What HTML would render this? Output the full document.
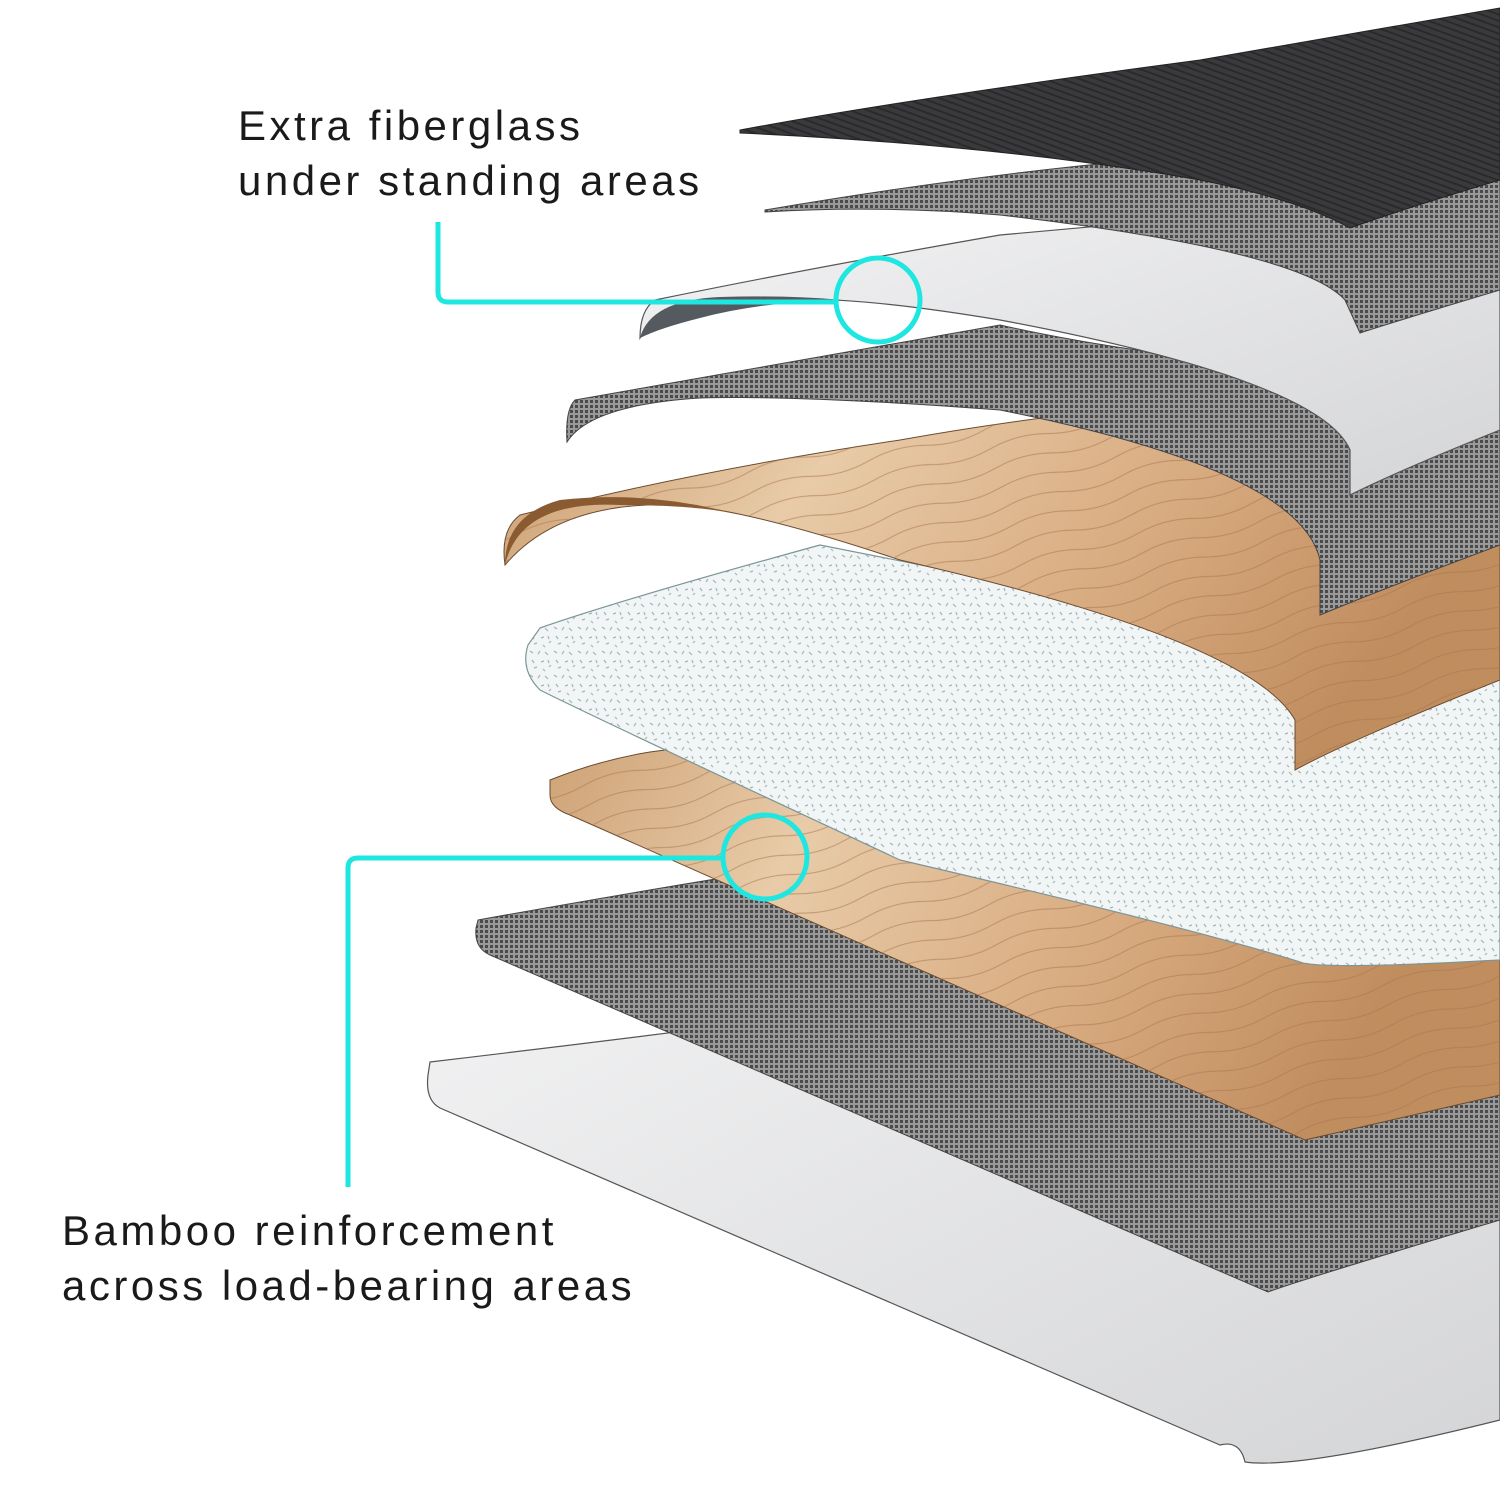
<!DOCTYPE html>
<html><head><meta charset="utf-8"><style>
html,body{margin:0;padding:0;background:#fff;}
svg{display:block;}
text{font-family:"Liberation Sans",sans-serif;fill:#1a1a1a;letter-spacing:3.5px;}
</style></head><body>
<svg width="1500" height="1500" viewBox="0 0 1500 1500" xmlns="http://www.w3.org/2000/svg">
<defs>
<pattern id="mesh" width="5" height="5" patternUnits="userSpaceOnUse">
<rect width="5" height="5" fill="#9a9a9a"/><rect width="3" height="3" fill="#4a4a4a"/>
</pattern>
<pattern id="stripes" width="6" height="6" patternUnits="userSpaceOnUse" patternTransform="rotate(-70)">
<rect width="6" height="6" fill="#3a3a3c"/><rect width="2" height="6" fill="#2a2a2c"/>
</pattern>
<pattern id="wood" width="120" height="40" patternUnits="userSpaceOnUse" patternTransform="rotate(-15)">
<path d="M0 10 Q30 2 60 10 T120 10 M0 30 Q30 22 60 30 T120 30" fill="none" stroke="#a87650" stroke-width="1" opacity="0.6"/>
</pattern>
<pattern id="foam" width="24" height="24" patternUnits="userSpaceOnUse">
<rect width="24" height="24" fill="#f1f5f5"/>
<path d="M2 3l3 2M10 6l2-3M17 4l3 3M4 12l2 3M13 14l3-1M20 12l1 3M6 20l3-1M15 21l2 2M21 19l2-2" stroke="#9fb6b8" stroke-width="1.2"/>
</pattern>
<linearGradient id="woodg" x1="0" y1="0" x2="1" y2="0.3">
<stop offset="0" stop-color="#c99a6c"/><stop offset="0.35" stop-color="#e8cba8"/><stop offset="0.7" stop-color="#d8ab80"/><stop offset="1" stop-color="#c08d5f"/>
</linearGradient>
<linearGradient id="whiteg" x1="0" y1="0" x2="1" y2="1">
<stop offset="0" stop-color="#f4f4f5"/><stop offset="1" stop-color="#d4d5d7"/>
</linearGradient>
</defs>

<path d="M430 1062 Q700 1030 1000 990 L1500 900 L1500 1420 Q1300 1470 1245 1462 Q1240 1440 1220 1445 L440 1108 Q425 1100 428 1075 Z" fill="url(#whiteg)" stroke="#555" stroke-width="1.2"/>
<path d="M478 920 Q700 880 900 850 L1500 760 L1500 1220 Q1300 1280 1268 1292 L490 955 Q474 948 476 928 Z" fill="url(#mesh)" stroke="#444" stroke-width="1"/>
<path d="M550 780 Q600 760 650 752 L1500 640 L1500 1095 Q1350 1130 1305 1140 L570 815 Q550 808 550 795 Z" fill="url(#woodg)" stroke="#6b4a2e" stroke-width="1"/>
<path d="M550 780 Q600 760 650 752 L1500 640 L1500 1095 Q1350 1130 1305 1140 L570 815 Q550 808 550 795 Z" fill="url(#wood)"/>
<path d="M540 628 Q620 600 820 545 L1500 680 L1500 960 Q1320 970 1300 962 Q1200 930 900 860 Q600 720 540 690 Q520 670 528 645 Z" fill="url(#foam)" stroke="#7d9597" stroke-width="1.2"/>
<path d="M520 515 Q700 470 900 440 Q1150 395 1500 380 L1500 680 Q1350 740 1295 770 L1295 720 Q1250 640 900 560 Q750 510 680 505 Q560 500 505 565 Q500 530 520 515 Z" fill="url(#woodg)" stroke="#6b4a2e" stroke-width="1"/>
<path d="M520 515 Q700 470 900 440 Q1150 395 1500 380 L1500 680 Q1350 740 1295 770 L1295 720 Q1250 640 900 560 Q750 510 680 505 Q560 500 505 565 Q500 530 520 515 Z" fill="url(#wood)"/>
<path d="M505 565 Q520 500 620 505 Q700 505 740 515 Q650 490 560 500 Q505 515 505 565 Z" fill="#8a5a30"/>
<path d="M575 400 Q800 360 1000 325 Q1200 370 1500 380 L1500 545 Q1380 590 1320 615 L1320 560 Q1300 470 1000 410 Q800 395 700 398 Q590 405 567 442 Q565 410 575 400 Z" fill="url(#mesh)" stroke="#444" stroke-width="1"/>
<path d="M655 300 Q800 270 1000 235 L1500 190 L1500 430 Q1400 470 1350 495 L1350 450 Q1320 380 1000 320 Q850 295 780 300 Q660 305 640 338 Q640 310 655 300 Z" fill="url(#whiteg)" stroke="#555" stroke-width="1.2"/>
<path d="M640 338 Q650 300 720 297 Q790 295 840 300 Q760 302 700 318 Q660 328 640 338 Z" fill="#555a60"/>
<path d="M765 210 Q1000 170 1200 155 L1500 110 L1500 290 Q1400 320 1360 333 L1345 300 Q1300 250 1000 215 Q880 205 765 212 Z" fill="url(#mesh)" stroke="#444" stroke-width="1"/>
<path d="M740 130 Q900 100 1200 60 L1500 8 L1500 180 Q1400 210 1350 228 Q1300 200 1200 180 Q1000 145 740 133 Z" fill="url(#stripes)" stroke="#222" stroke-width="1"/>

<path d="M438 222 L438 292 Q438 302 448 302 L835 302" fill="none" stroke="#1ee6e0" stroke-width="5"/>
<circle cx="878" cy="300" r="42" fill="none" stroke="#1ee6e0" stroke-width="5"/>
<path d="M348 1187 L348 868 Q348 858 358 858 L721 858" fill="none" stroke="#1ee6e0" stroke-width="5"/>
<circle cx="765" cy="857" r="42" fill="none" stroke="#1ee6e0" stroke-width="5"/>

<text x="238" y="140" font-size="42">Extra fiberglass</text>
<text x="238" y="195" font-size="42">under standing areas</text>
<text x="62" y="1245" font-size="42">Bamboo reinforcement</text>
<text x="62" y="1300" font-size="42">across load-bearing areas</text>
</svg>
</body></html>
